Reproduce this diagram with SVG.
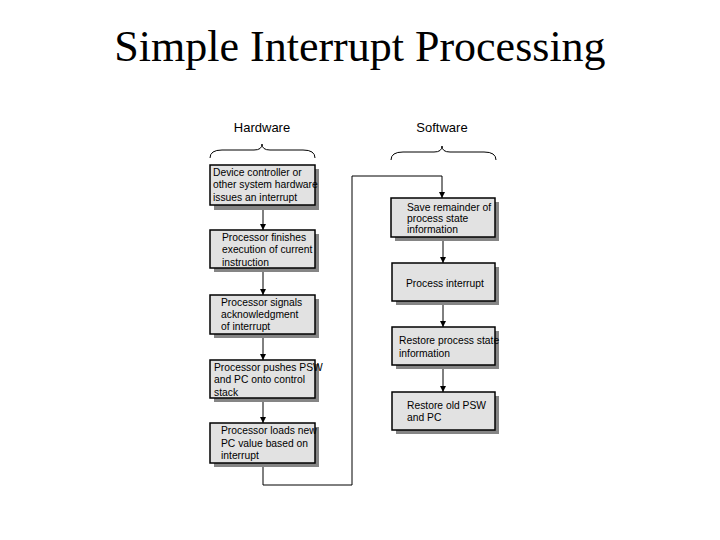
<svg xmlns="http://www.w3.org/2000/svg" width="720" height="540" viewBox="0 0 720 540">
<style>
.title{font-family:"Liberation Serif",serif;font-size:44px;fill:#000}
.hdr{font-family:"Liberation Sans",Arial,sans-serif;font-size:13px;fill:#000}
.t{font-family:"Liberation Sans",Arial,sans-serif;font-size:10.3px;fill:#000}
.box{fill:#e2e2e2;stroke:#000;stroke-width:1.5}
.sh{fill:#858585}
.ln{fill:none;stroke:#000;stroke-width:1}
.br{fill:none;stroke:#000;stroke-width:1}
</style>
<defs>
<marker id="ah" viewBox="0 0 10 10" refX="10" refY="5" markerWidth="6" markerHeight="6" orient="auto" markerUnits="userSpaceOnUse">
<path d="M0,0 L10,5 L0,10 z" fill="#000"/>
</marker>
</defs>
<rect width="720" height="540" fill="#fff"/>
<text class="title" x="360" y="61" text-anchor="middle">Simple Interrupt Processing</text>
<text class="hdr" x="262" y="132" text-anchor="middle">Hardware</text>
<text class="hdr" x="442" y="132" text-anchor="middle">Software</text>
<path class="br" d="M210,158 Q210,150 222,150 L254,150 Q262,150 262,144 Q262,150 270,150 L303,150 Q315,150 315,158"/>
<path class="br" d="M391,160 Q391,152 403,152 L434,152 Q442,152 442,146 Q442,152 450,152 L484,152 Q496,152 496,160"/>
<g id="connectors">
<path class="ln" d="M263,205 L263,230" marker-end="url(#ah)"/>
<path class="ln" d="M263,268 L263,295" marker-end="url(#ah)"/>
<path class="ln" d="M263,334 L263,360" marker-end="url(#ah)"/>
<path class="ln" d="M263,398 L263,423" marker-end="url(#ah)"/>
<path class="ln" d="M263,463 L263,485 L352,485 L352,176 L442,176 L442,198" marker-end="url(#ah)"/>
<path class="ln" d="M443,237 L443,263" marker-end="url(#ah)"/>
<path class="ln" d="M443,301 L443,327" marker-end="url(#ah)"/>
<path class="ln" d="M443,365 L443,392" marker-end="url(#ah)"/>
</g>
<g id="n1">
<rect class="sh" x="214" y="169" width="105" height="41"/>
<rect class="box" x="210" y="165" width="105" height="40"/>
<text class="t" x="213" y="176">Device controller or</text>
<text class="t" x="213" y="188">other system hardware</text>
<text class="t" x="213" y="201">issues an interrupt</text>
</g>
<g id="n2">
<rect class="sh" x="214" y="234" width="105" height="38"/>
<rect class="box" x="210" y="230" width="105" height="38"/>
<text class="t" x="222" y="241">Processor finishes</text>
<text class="t" x="222" y="253">execution of current</text>
<text class="t" x="222" y="266">instruction</text>
</g>
<g id="n3">
<rect class="sh" x="214" y="299" width="105" height="39"/>
<rect class="box" x="210" y="295" width="105" height="39"/>
<text class="t" x="221" y="306">Processor signals</text>
<text class="t" x="221" y="318">acknowledgment</text>
<text class="t" x="221" y="330">of interrupt</text>
</g>
<g id="n4">
<rect class="sh" x="214" y="364" width="105" height="38"/>
<rect class="box" x="210" y="360" width="105" height="38"/>
<text class="t" x="214" y="371">Processor pushes PSW</text>
<text class="t" x="214" y="383">and PC onto control</text>
<text class="t" x="214" y="396">stack</text>
</g>
<g id="n5">
<rect class="sh" x="214" y="427" width="105" height="40"/>
<rect class="box" x="210" y="423" width="105" height="40"/>
<text class="t" x="221" y="434">Processor loads new</text>
<text class="t" x="221" y="447">PC value based on</text>
<text class="t" x="221" y="459">interrupt</text>
</g>
<g id="s1">
<rect class="sh" x="395" y="202" width="104" height="39"/>
<rect class="box" x="391" y="198" width="104" height="39"/>
<text class="t" x="407" y="211">Save remainder of</text>
<text class="t" x="407" y="222">process state</text>
<text class="t" x="407" y="233">information</text>
</g>
<g id="s2">
<rect class="sh" x="396" y="267" width="103" height="38"/>
<rect class="box" x="392" y="263" width="103" height="38"/>
<text class="t" x="406" y="287">Process interrupt</text>
</g>
<g id="s3">
<rect class="sh" x="396" y="331" width="103" height="38"/>
<rect class="box" x="392" y="327" width="103" height="38"/>
<text class="t" x="399" y="344">Restore process state</text>
<text class="t" x="399" y="357">information</text>
</g>
<g id="s4">
<rect class="sh" x="396" y="396" width="103" height="38"/>
<rect class="box" x="392" y="392" width="103" height="38"/>
<text class="t" x="407" y="409">Restore old PSW</text>
<text class="t" x="407" y="421">and PC</text>
</g>
</svg>
